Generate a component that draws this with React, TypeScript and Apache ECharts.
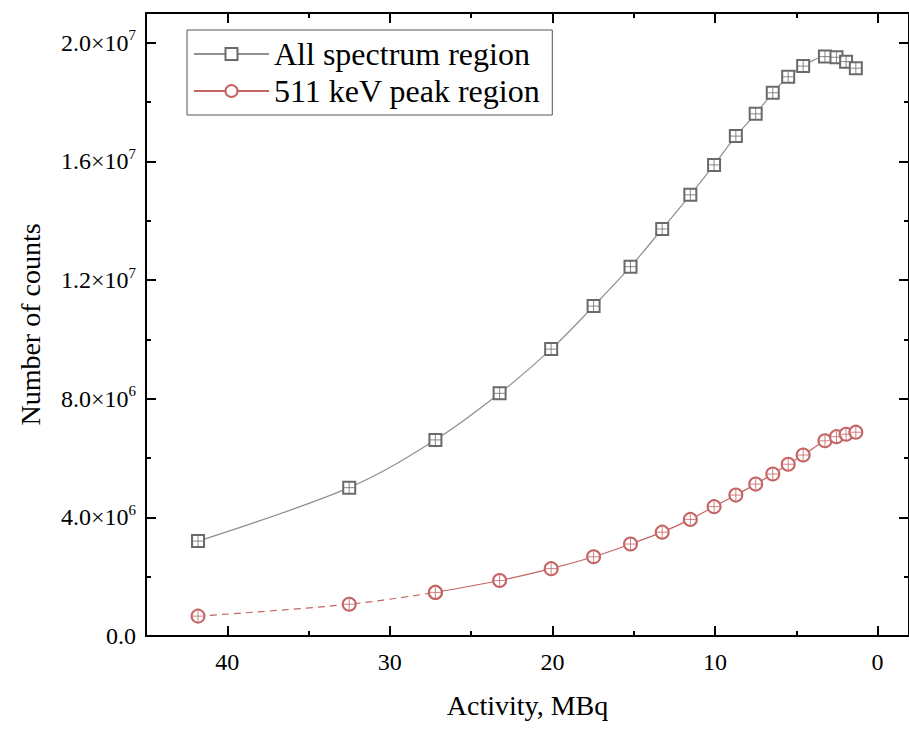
import React, { useEffect, useRef } from "react";
import * as echarts from "echarts";

const FONT = "Liberation Serif";

// Activity values (MBq)
const activity = [41.8, 32.5, 27.2, 23.25, 20.08, 17.47, 15.2, 13.25, 11.52, 10.06, 8.72, 7.5, 6.45, 5.5, 4.58, 3.24, 2.53, 1.94, 1.34];
// Counts – whole spectrum region
const allSpectrum = [3.2e6, 5.0e6, 6.61e6, 8.18e6, 9.67e6, 11.12e6, 12.45e6, 13.72e6, 14.87e6, 15.88e6, 16.85e6, 17.6e6, 18.31e6, 18.85e6, 19.21e6, 19.53e6, 19.51e6, 19.36e6, 19.14e6];
// Counts – 511 keV peak region
const peak511 = [0.67e6, 1.07e6, 1.47e6, 1.87e6, 2.27e6, 2.67e6, 3.1e6, 3.5e6, 3.93e6, 4.36e6, 4.75e6, 5.12e6, 5.46e6, 5.79e6, 6.1e6, 6.58e6, 6.72e6, 6.8e6, 6.87e6];

const seriesNames = ["All spectrum region", "511 keV peak region"];
const xMajorTicks = [0, 10, 20, 30, 40];
const xMinorTicks = [5, 15, 25, 35];
const yMajorTicks = [0, 4e6, 8e6, 1.2e7, 1.6e7, 2.0e7];
const yMinorTicks = [2e6, 6e6, 1e7, 1.4e7, 1.8e7];
const X_MIN = -1.93;
const X_MAX = 45;
const Y_MIN = 0;
const Y_MAX = 2.1e7;
const DASHED_COUNT = 3; // first points of the 511 keV curve drawn dashed

const GRAY_LINE = "#8f8f8f";
const GRAY_MARK = "#6a6a6a";
const RED = "#c46464";

const crossSymbol = "path://M5 0L5 10M0 5L10 5";

function pairs(xs: number[], ys: number[]) {
  return xs.map((x, i) => [x, ys[i]]);
}

function yLabel(v: number) {
  if (v === 0) return "{m|0.0}";
  const e = Math.floor(Math.log10(v) + 1e-9);
  const m = v / Math.pow(10, e);
  return `{m|${m.toFixed(1)}×10}{e|${e}}`;
}

export default function App() {
  const ref = useRef<HTMLDivElement>(null);
  useEffect(() => {
    if (!ref.current) return;
    const chart = echarts.init(ref.current, undefined, { renderer: "svg" });
    const axisLine = { show: true, onZero: false, lineStyle: { color: "#000", width: 2 } };
    const noLine = { show: false, onZero: false };
    const majorTick = (vals: number[]) => ({ show: true, inside: true, length: 10, customValues: vals, lineStyle: { color: "#000", width: 2 } });
    const minorTick = (vals: number[]) => ({ show: true, inside: true, length: 5, customValues: vals, lineStyle: { color: "#000", width: 2 } });
    const xBase = { type: "value", min: X_MIN, max: X_MAX, inverse: true, splitLine: { show: false } };
    const yBase = { type: "value", min: Y_MIN, max: Y_MAX, splitLine: { show: false } };

    const all = pairs(activity, allSpectrum);
    const pk = pairs(activity, peak511);

    chart.setOption({
      animation: false,
      backgroundColor: "#fff",
      grid: { left: 146, right: -8, top: 13, bottom: 93 },
      legend: {
        data: seriesNames,
        orient: "vertical",
        left: 187,
        top: 30,
        padding: [8, 12, 8, 6],
        itemGap: 5,
        itemWidth: 75,
        itemHeight: 15,
        borderColor: "#555",
        borderWidth: 1,
        backgroundColor: "#fff",
        textStyle: { fontFamily: FONT, fontSize: 32, color: "#000", lineHeight: 32 },
      },
      xAxis: [
        {
          ...xBase,
          position: "bottom",
          axisLine,
          axisTick: majorTick(xMajorTicks),
          axisLabel: { customValues: xMajorTicks, fontFamily: FONT, fontSize: 24, color: "#000", margin: 14 },
          name: "Activity, MBq",
          nameLocation: "middle",
          nameGap: 55,
          nameTextStyle: { fontFamily: FONT, fontSize: 28, color: "#000" },
        },
        { ...xBase, position: "bottom", axisLine: noLine, axisTick: minorTick(xMinorTicks), axisLabel: { show: false } },
        { ...xBase, position: "top", axisLine, axisTick: majorTick(xMajorTicks), axisLabel: { show: false } },
        { ...xBase, position: "top", axisLine: noLine, axisTick: minorTick(xMinorTicks), axisLabel: { show: false } },
      ],
      yAxis: [
        {
          ...yBase,
          position: "left",
          axisLine,
          axisTick: majorTick(yMajorTicks),
          axisLabel: {
            customValues: yMajorTicks,
            margin: 10,
            formatter: yLabel,
            rich: {
              m: { fontFamily: FONT, fontSize: 24, color: "#000", lineHeight: 30 },
              e: { fontFamily: FONT, fontSize: 15, color: "#000", verticalAlign: "top", lineHeight: 18 },
            },
          },
          name: "Number of counts",
          nameLocation: "middle",
          nameGap: 102,
          nameTextStyle: { fontFamily: FONT, fontSize: 28, color: "#000" },
        },
        { ...yBase, position: "left", axisLine: noLine, axisTick: minorTick(yMinorTicks), axisLabel: { show: false } },
        { ...yBase, position: "right", axisLine, axisTick: majorTick(yMajorTicks), axisLabel: { show: false } },
        { ...yBase, position: "right", axisLine: noLine, axisTick: minorTick(yMinorTicks), axisLabel: { show: false } },
      ],
      series: [
        {
          name: seriesNames[0],
          type: "line",
          data: all,
          smooth: 0.35,
          symbol: "emptyRect",
          symbolSize: 12,
          lineStyle: { color: GRAY_LINE, width: 1.2 },
          itemStyle: { color: GRAY_MARK, borderColor: GRAY_MARK, borderWidth: 1.2 },
          z: 3,
        },
        {
          name: seriesNames[1],
          type: "line",
          data: pk.slice(DASHED_COUNT - 1),
          smooth: 0.35,
          symbol: "emptyCircle",
          symbolSize: 13,
          lineStyle: { color: RED, width: 1.2 },
          itemStyle: { color: RED, borderColor: RED, borderWidth: 1.2 },
          z: 3,
        },
        {
          name: seriesNames[1],
          type: "line",
          data: pk.slice(0, DASHED_COUNT),
          smooth: 0.35,
          symbol: "emptyCircle",
          symbolSize: 13,
          lineStyle: { color: RED, width: 1.2, type: [7, 5] },
          itemStyle: { color: RED, borderColor: RED, borderWidth: 1.2 },
          z: 3,
        },
        {
          type: "scatter",
          data: all,
          symbol: crossSymbol,
          symbolSize: 11,
          silent: true,
          itemStyle: { color: "transparent", borderColor: GRAY_MARK, borderWidth: 1 },
          z: 4,
        },
        {
          type: "scatter",
          data: pk,
          symbol: crossSymbol,
          symbolSize: 12,
          silent: true,
          itemStyle: { color: "transparent", borderColor: RED, borderWidth: 1 },
          z: 4,
        },
      ],
    });
    return () => chart.dispose();
  }, []);
  return (
    <div
      ref={ref}
      style={{ position: "fixed", left: 0, top: 0, width: 909, height: 729, background: "#fff" }}
    />
  );
}
